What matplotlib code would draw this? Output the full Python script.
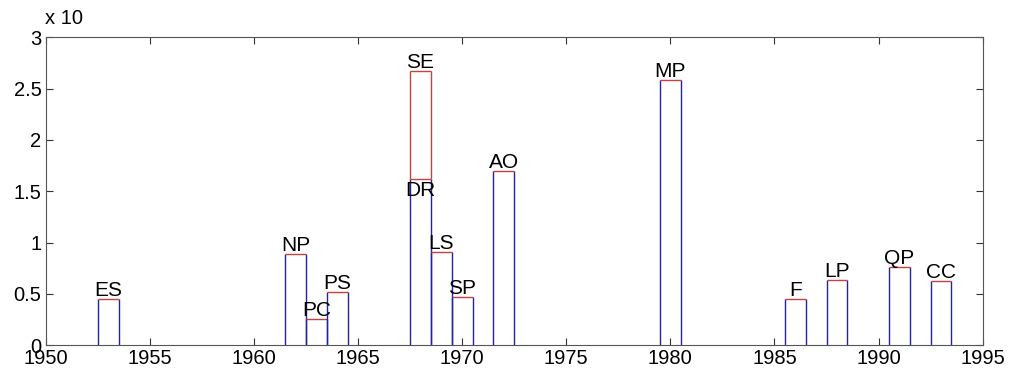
import matplotlib.pyplot as plt

# --- data ---
labels = ['ES', 'NP', 'PC', 'PS', 'DR', 'LS', 'SP', 'AO', 'MP', 'F', 'LP', 'QP', 'CC']
years = [1953, 1962, 1963, 1964, 1968, 1969, 1970, 1972, 1980, 1986, 1988, 1991, 1993]
values = [0.45, 0.89, 0.26, 0.52, 1.62, 0.91, 0.47, 1.70, 2.58, 0.45, 0.64, 0.76, 0.63]

# SE sits on top of DR in the same year
stack_label = 'SE'
stack_year = 1968
stack_top = 2.67

xticks = [1950, 1955, 1960, 1965, 1970, 1975, 1980, 1985, 1990, 1995]
yticks = [0, 0.5, 1, 1.5, 2, 2.5, 3]
ytick_labels = ['0', '0.5', '1', '1.5', '2', '2.5', '3']

BLUE = '#2323a0'
RED = '#c84040'
plt.rcParams['font.family'] = ['Liberation Sans', 'DejaVu Sans']

fig = plt.figure(figsize=(10.1, 3.76), dpi=100)
ax = fig.add_axes([0.0452, 0.0816, 0.9278, 0.8192])

half = 0.5
FS_LAB = 15
for lab, yr, v in zip(labels, years, values):
    ax.vlines([yr - half, yr + half], 0, v, color=BLUE, lw=1.0)
    ax.hlines(v, yr - half, yr + half, color=RED, lw=1.0)
    if lab == 'DR':
        ax.text(yr, v - 0.02, lab, ha='center', va='top', fontsize=FS_LAB)
    else:
        ax.text(yr, v - 0.01, lab, ha='center', va='bottom', fontsize=FS_LAB)

# stacked SE segment
base = values[labels.index('DR')]
ax.vlines([stack_year - half, stack_year + half], base, stack_top, color=RED, lw=1.0)
ax.hlines(stack_top, stack_year - half, stack_year + half, color=RED, lw=1.0)
ax.text(stack_year, stack_top - 0.01, stack_label, ha='center', va='bottom', fontsize=FS_LAB)

ax.set_xlim(1950, 1995)
ax.set_ylim(0, 3)
ax.set_xticks(xticks)
ax.set_yticks(yticks)
ax.set_yticklabels(ytick_labels)
ax.tick_params(direction='in', top=True, right=True, labelsize=14.5, length=5,
               color='#333333', pad=3)
for s in ax.spines.values():
    s.set_color('#555555')

fig.text(0.0445, 0.925, 'x 10', fontsize=14.5, ha='left', va='bottom')

fig.savefig('out.png', dpi=100)
